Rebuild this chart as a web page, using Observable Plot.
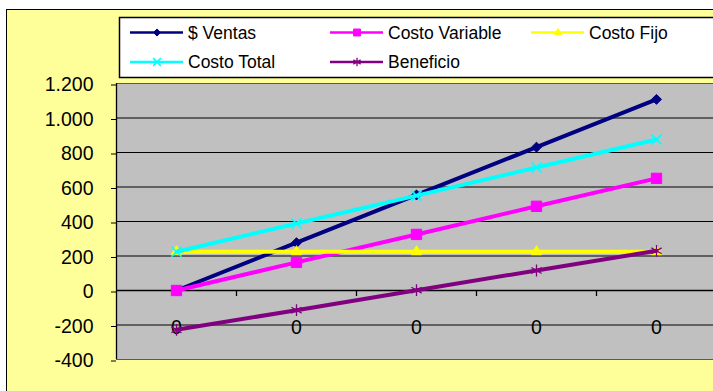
<!DOCTYPE html>
<html>
<head>
<meta charset="utf-8">
<script src="https://cdn.jsdelivr.net/npm/d3@7"></script>
<script src="https://cdn.jsdelivr.net/npm/@observablehq/plot@0.6"></script>
<style>
  html, body { margin: 0; padding: 0; background: #ffffff; overflow: hidden; }
  #wrap { position: relative; width: 713px; height: 391px; overflow: hidden; }
  #area { position: absolute; left: 6px; top: 9px; width: 800px; height: 500px;
          background: #FFFF99; border-left: 1.5px solid #000; border-top: 1.5px solid #000; }
  #chart { position: absolute; left: 0; top: 0; }
</style>
</head>
<body>
<div id="wrap"><div id="area"></div><div id="chart"></div></div>
<script>
// Category labels along the horizontal axis (one per period)
const xLabels = ["0", "0", "0", "0", "0"];

// Series values per period
const ventas        = [0, 277, 554, 831, 1108];
const costoVariable = [0, 163, 325, 488, 650];
const costoFijo     = [225, 225, 225, 225, 225];
const costoTotal    = [225, 388, 550, 713, 875];
const beneficio     = [-228, -114, 2, 116, 230];

// Value axis ticks
const yTicks = [-400, -200, 0, 200, 400, 600, 800, 1000, 1200];

const seriesNames = ["$ Ventas", "Costo Variable", "Costo Fijo", "Costo Total", "Beneficio"];
const seriesValues = [ventas, costoVariable, costoFijo, costoTotal, beneficio];
const seriesStyle = [
  {color: "#000080", symbol: "diamond2", r: 4.5, lr: 3.2, sw: 1},
  {color: "#FF00FF", symbol: "square2", r: 6.6, lr: 4.4, sw: 1},
  {color: "#FFFF00", symbol: "triangle2", r: 5, lr: 3.4, sw: 1},
  {color: "#00FFFF", symbol: "times", r: 4.6, lr: 3.6, sw: 1.6},
  {color: "#800080", symbol: "asterisk", r: 5.6, lr: 4, sw: 1.3}
];

// Spanish-style number format: "." for thousands, hyphen minus
const fmt = d3.formatLocale({decimal: ",", thousands: ".", grouping: [3], currency: ["$", ""], minus: "-"}).format(",d");

// Category boundaries for the small tick marks on the zero line
const boundaries = xLabels.slice(1).map((_, i) => i + 0.5);

const seriesMarks = seriesNames.flatMap((name, k) => {
  const rows = seriesValues[k].map((v, i) => ({i, v, name}));
  const s = seriesStyle[k];
  return [
    Plot.line(rows, {x: "i", y: "v", stroke: s.color, strokeWidth: 4}),
    Plot.dot(rows, {x: "i", y: "v", symbol: s.symbol, r: s.r,
      fill: (s.symbol === "times" || s.symbol === "asterisk") ? "none" : s.color,
      stroke: s.color, strokeWidth: s.sw})
  ];
});

const chart = Plot.plot({
  width: 716,
  height: 391,
  marginLeft: 116,
  marginRight: 0,
  marginTop: 83,
  marginBottom: 32,
  style: {background: "transparent", fontFamily: "'Liberation Sans', Arial, sans-serif",
          fontSize: "19.5px", color: "#000", maxWidth: "none", overflow: "visible"},
  x: {type: "linear", domain: [-0.5, xLabels.length - 0.5], axis: null},
  y: {domain: [-400, 1200], axis: null},
  marks: [
    Plot.frame({fill: "#C0C0C0", stroke: "#5a5a5a", strokeWidth: 1}),
    Plot.gridY(yTicks.filter(t => t > -400 && t < 1200 && t !== 0), {stroke: "#000", strokeOpacity: 1, strokeWidth: 1}),
    Plot.ruleY([0], {stroke: "#000", strokeWidth: 1.3}),
    Plot.ruleX(boundaries, {x: d => d, y1: 0, y2: -35, stroke: "#000", strokeWidth: 1.3}),
    Plot.ruleX([-0.5], {x: d => d, y1: -400, y2: 1200, stroke: "#000", strokeWidth: 1.3}),
    Plot.axisY(yTicks, {tickSize: 5, tickPadding: 18, tickFormat: fmt, stroke: "#000", dy: 1.5, label: null}),
    Plot.text(xLabels, {x: (d, i) => i, text: d => d, frameAnchor: "bottom", lineAnchor: "middle", dy: -32, fill: "#000"}),
    ...seriesMarks
  ]
});

document.getElementById("chart").appendChild(chart);

// Legend box: three columns, two rows
const svg = d3.select(chart);
const lg = svg.append("g").attr("font-family", "'Liberation Sans', Arial, sans-serif")
  .attr("font-size", "17.5px").attr("text-anchor", "start");
lg.append("rect").attr("x", 119.5).attr("y", 17.5).attr("width", 640).attr("height", 60)
  .attr("fill", "#fff").attr("stroke", "#000").attr("stroke-width", 1.5);
const colX = [130, 330, 531];
const rowY = [32.5, 62];
const symType = {diamond2: d3.symbolDiamond2, square2: d3.symbolSquare2, triangle2: d3.symbolTriangle2,
                 times: d3.symbolTimes, asterisk: d3.symbolAsterisk};
seriesNames.forEach((name, k) => {
  const s = seriesStyle[k];
  const cx = colX[k % 3], cy = rowY[Math.floor(k / 3)];
  const g = lg.append("g");
  g.append("line").attr("x1", cx).attr("x2", cx + 53).attr("y1", cy).attr("y2", cy)
    .attr("stroke", s.color).attr("stroke-width", 2.5);
  const stroked = s.symbol === "times" || s.symbol === "asterisk";
  g.append("path").attr("transform", `translate(${cx + 27},${cy})`)
    .attr("d", d3.symbol(symType[s.symbol], Math.PI * s.lr * s.lr)())
    .attr("fill", stroked ? "none" : s.color).attr("stroke", s.color).attr("stroke-width", s.sw);
  g.append("text").attr("x", cx + 58).attr("y", cy).attr("dy", "0.35em")
    .attr("text-anchor", "start").attr("fill", "#000").text(name);
});
</script>
</body>
</html>
